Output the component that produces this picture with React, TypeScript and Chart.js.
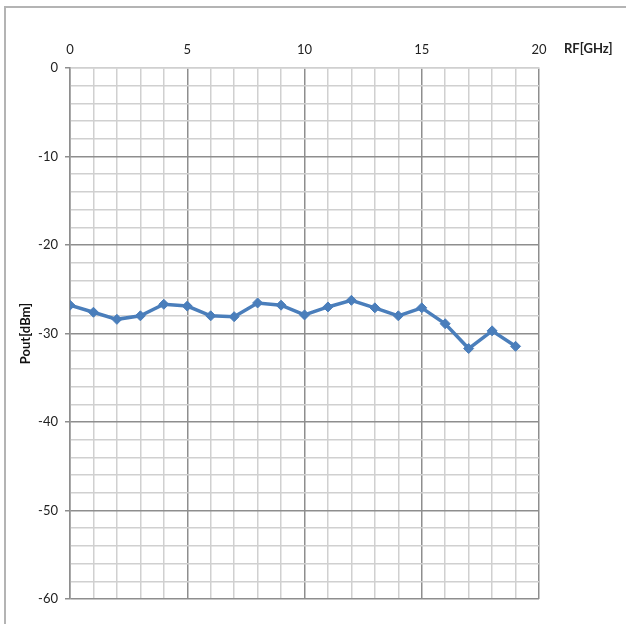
import React, { useEffect, useRef } from "react";
import { Chart, registerables } from "chart.js";

Chart.register(...registerables);

const freqGHz = [0, 1, 2, 3, 4, 5, 6, 7, 8, 9, 10, 11, 12, 13, 14, 15, 16, 17, 18, 19];
const poutDbm = [-26.8, -27.6, -28.4, -28.0, -26.7, -26.9, -28.0, -28.1, -26.55, -26.8, -27.9, -27.0, -26.25, -27.1, -28.0, -27.1, -28.9, -31.7, -29.7, -31.45];
const xTitle = "RF[GHz]";
const yTitle = "Pout[dBm]";

const FONT = "Lato, 'Open Sans', sans-serif";
const MINOR = "#d0d0d0";
const MAJOR = "#8e8e8e";

export default function App() {
  const ref = useRef<HTMLCanvasElement>(null);
  useEffect(() => {
    if (!ref.current) return;
    const framePlugin = {
      id: "frame",
      beforeDraw(chart: any) {
        const c = chart.ctx;
        c.save();
        c.fillStyle = "#ffffff";
        c.fillRect(0, 0, chart.width, chart.height);
        c.strokeStyle = "#b4b4b4";
        c.lineWidth = 2;
        c.strokeRect(5, 7, 800, 800);
        c.restore();
      },
      afterDraw(chart: any) {
        const c = chart.ctx;
        c.save();
        c.font = `bold 13px ${FONT}`;
        c.fillStyle = "#222";
        c.textAlign = "left";
        c.textBaseline = "middle";
        c.fillText(xTitle, 564, 49);
        c.restore();
      },
    };
    const chart = new Chart(ref.current, {
      type: "line",
      data: {
        datasets: [
          {
            data: freqGHz.map((f, i) => ({ x: f, y: poutDbm[i] })),
            borderColor: "#4a7ebb",
            backgroundColor: "#4a7ebb",
            borderWidth: 3.5,
            pointStyle: "rectRot",
            pointRadius: 5,
            pointBorderWidth: 1,
            tension: 0,
          },
        ],
      },
      options: {
        responsive: false,
        animation: false,
        layout: { padding: { left: 0, top: 0, right: 87, bottom: 25 } },
        plugins: { legend: { display: false }, tooltip: { enabled: false } },
        scales: {
          x: {
            type: "linear",
            position: "top",
            min: 0,
            max: 20,
            afterFit(scale: any) {
              scale.height = 68;
            },
            ticks: {
              stepSize: 1,
              autoSkip: false,
              maxRotation: 0,
              padding: 10,
              color: "#222",
              font: { family: FONT, size: 13 },
              callback: (v: any) => (Number(v) % 5 === 0 ? String(v) : ""),
            },
            grid: {
              drawTicks: false,
              color: (ctx: any) => (ctx.tick && ctx.tick.value % 5 === 0 ? MAJOR : MINOR),
              lineWidth: 1.5,
            },
            border: { color: MINOR, width: 1.5 },
          },
          y: {
            type: "linear",
            min: -60,
            max: 0,
            afterFit(scale: any) {
              scale.width = 70;
            },
            title: {
              display: true,
              text: yTitle,
              color: "#111",
              font: { family: FONT, size: 13, weight: "bold" },
              padding: { top: 18, bottom: 0 },
            },
            ticks: {
              stepSize: 2,
              autoSkip: false,
              padding: 7,
              color: "#222",
              font: { family: FONT, size: 13 },
              callback: (v: any) => (Number(v) % 10 === 0 ? String(v) : ""),
            },
            grid: {
              tickLength: 5,
              color: (ctx: any) => (ctx.tick && ctx.tick.value % 10 === 0 ? (ctx.tick.value === 0 ? MINOR : MAJOR) : MINOR),
              tickColor: (ctx: any) => (ctx.tick && ctx.tick.value % 10 === 0 ? MAJOR : "rgba(0,0,0,0)"),
              lineWidth: 1.5,
            },
            border: { color: MAJOR, width: 1.5 },
          },
        },
      },
      plugins: [framePlugin],
    } as any);
    return () => chart.destroy();
  }, []);
  return (
    <canvas
      ref={ref}
      width={626}
      height={624}
      style={{ position: "fixed", left: 0, top: 0, display: "block" }}
    />
  );
}
